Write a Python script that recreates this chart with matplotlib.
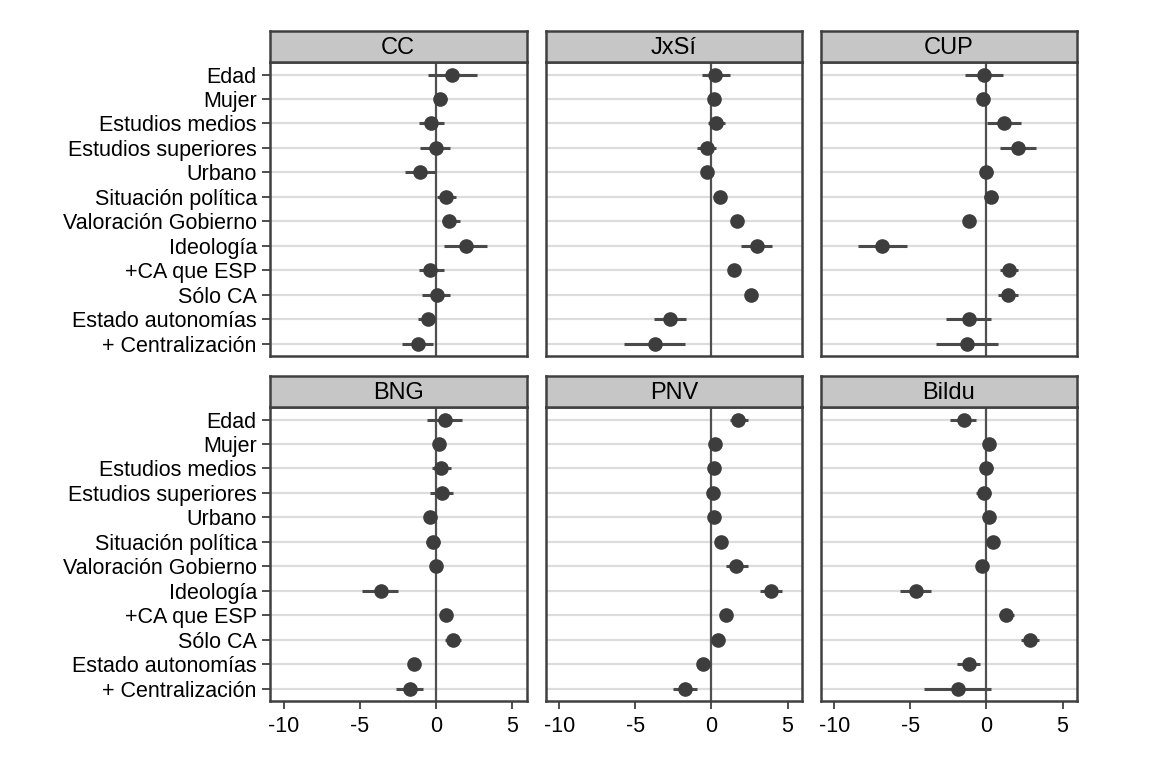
import numpy as np
import matplotlib.pyplot as plt

plt.rcParams['font.family'] = ['Liberation Sans', 'DejaVu Sans']

variables = ["Edad", "Mujer", "Estudios medios", "Estudios superiores", "Urbano",
             "Situación política", "Valoración Gobierno", "Ideología",
             "+CA que ESP", "Sólo CA", "Estado autonomías", "+ Centralización"]

parties = ["CC", "JxSí", "CUP", "BNG", "PNV", "Bildu"]

# point estimates, one list per party (same order as variables)
coef_cc = [1.08, 0.30, -0.32, 0.00, -1.02, 0.67, 0.87, 1.97, -0.37, 0.04, -0.54, -1.17]
coef_jxsi = [0.26, 0.19, 0.32, -0.32, -0.26, 0.54, 1.71, 2.97, 1.49, 2.62, -2.75, -3.72]
coef_cup = [-0.17, -0.22, 1.13, 2.06, 0.00, 0.28, -1.13, -6.86, 1.49, 1.41, -1.13, -1.26]
coef_bng = [0.61, 0.17, 0.33, 0.37, -0.37, -0.17, 0.00, -3.64, 0.63, 1.13, -1.42, -1.70]
coef_pnv = [1.72, 0.26, 0.17, 0.11, 0.15, 0.63, 1.63, 3.90, 0.98, 0.44, -0.57, -1.72]
coef_bildu = [-1.50, 0.20, 0.00, -0.17, 0.20, 0.46, -0.28, -4.64, 1.31, 2.85, -1.17, -1.85]

# lower / upper bounds of the intervals
low_cc = [-0.54, -0.10, -1.13, -1.04, -2.06, 0.04, 0.43, 0.50, -1.13, -0.89, -1.15, -2.25]
up_cc = [2.68, 0.70, 0.52, 0.95, -0.09, 1.34, 1.60, 3.38, 0.50, 0.95, -0.06, -0.17]
low_jxsi = [-0.65, -0.10, -0.22, -0.95, -0.55, 0.20, 1.36, 1.95, 1.15, 2.30, -3.79, -5.74]
up_jxsi = [1.19, 0.48, 0.91, 0.32, 0.03, 0.88, 2.06, 3.98, 1.83, 2.94, -1.67, -1.71]
low_cup = [-1.39, -0.55, 0.04, 0.87, -0.40, -0.17, -1.53, -8.46, 0.89, 0.76, -2.66, -3.31]
up_cup = [1.08, 0.11, 2.27, 3.25, 0.40, 0.73, -0.73, -5.24, 2.09, 2.06, 0.32, 0.76]
low_bng = [-0.61, -0.15, -0.28, -0.39, -0.70, -0.62, -0.35, -4.86, 0.30, 0.58, -1.75, -2.64]
up_bng = [1.72, 0.49, 0.98, 1.09, -0.04, 0.28, 0.35, -2.46, 0.96, 1.68, -1.09, -0.83]
low_pnv = [1.24, -0.06, -0.15, -0.21, -0.17, 0.30, 0.98, 3.22, 0.65, 0.11, -0.90, -2.55]
up_pnv = [2.40, 0.58, 0.49, 0.43, 0.47, 0.96, 2.37, 4.62, 1.31, 0.77, -0.24, -0.94]
low_bildu = [-2.40, -0.13, -0.45, -0.67, -0.13, 0.10, -0.65, -5.69, 0.81, 2.25, -1.92, -4.09]
up_bildu = [-0.68, 0.53, 0.45, 0.33, 0.53, 0.82, 0.09, -3.66, 1.81, 3.45, -0.43, 0.33]

coefs = [coef_cc, coef_jxsi, coef_cup, coef_bng, coef_pnv, coef_bildu]
lows = [low_cc, low_jxsi, low_cup, low_bng, low_pnv, low_bildu]
ups = [up_cc, up_jxsi, up_cup, up_bng, up_pnv, up_bildu]

xticks = [-10, -5, 0, 5]

W, H = 1152, 762
fig = plt.figure(figsize=(W / 100, H / 100), dpi=100)

# panel geometry in pixels
col_left = [270, 545.5, 820.5]
row_top = [62.3, 407.3]
pw, ph = 256.5, 293.7
strip_h = 31

dark = '#3d3d3d'
ypos = np.arange(len(variables))

for i, party in enumerate(parties):
    r, c = divmod(i, 3)
    x0 = col_left[c]
    y0 = row_top[r]
    ax = fig.add_axes([x0 / W, 1 - (y0 + ph) / H, pw / W, ph / H])

    # grid lines for each variable
    for y in ypos:
        ax.axhline(y, color='#dcdcdc', lw=1.6, zorder=0)
    ax.axvline(0, color='#505050', lw=1.6, zorder=1)

    ax.hlines(ypos, lows[i], ups[i], color='#4a4a4a', lw=2.2, zorder=2)
    ax.plot(coefs[i], ypos, 'o', color=dark, markersize=9.5, zorder=3)

    ax.set_xlim(-10.9, 5.95)
    ax.set_ylim(len(variables) - 0.5, -0.5)
    ax.set_xticks(xticks)
    ax.set_yticks(ypos)

    for s in ax.spines.values():
        s.set_color('#404040')
        s.set_linewidth(1.8)

    ax.tick_params(axis='both', colors='#404040', width=1.3, length=6,
                   labelsize=15.5, labelcolor='black')
    ax.tick_params(axis='x', pad=5)
    if c == 0:
        ax.set_yticklabels(variables)
    else:
        ax.tick_params(axis='y', left=False, labelleft=False)
    if r == 1:
        ax.set_xticklabels([str(t) for t in xticks])
    else:
        ax.tick_params(axis='x', bottom=False, labelbottom=False)

    # strip with party name
    sax = fig.add_axes([x0 / W, 1 - y0 / H, pw / W, strip_h / H])
    sax.set_xticks([])
    sax.set_yticks([])
    sax.set_facecolor('#c6c6c6')
    for s in sax.spines.values():
        s.set_color('#404040')
        s.set_linewidth(1.8)
    sax.text(0.5, 0.47, party, ha='center', va='center', fontsize=17,
             color='black', transform=sax.transAxes)

fig.savefig('out.png', dpi=100, facecolor='white')
